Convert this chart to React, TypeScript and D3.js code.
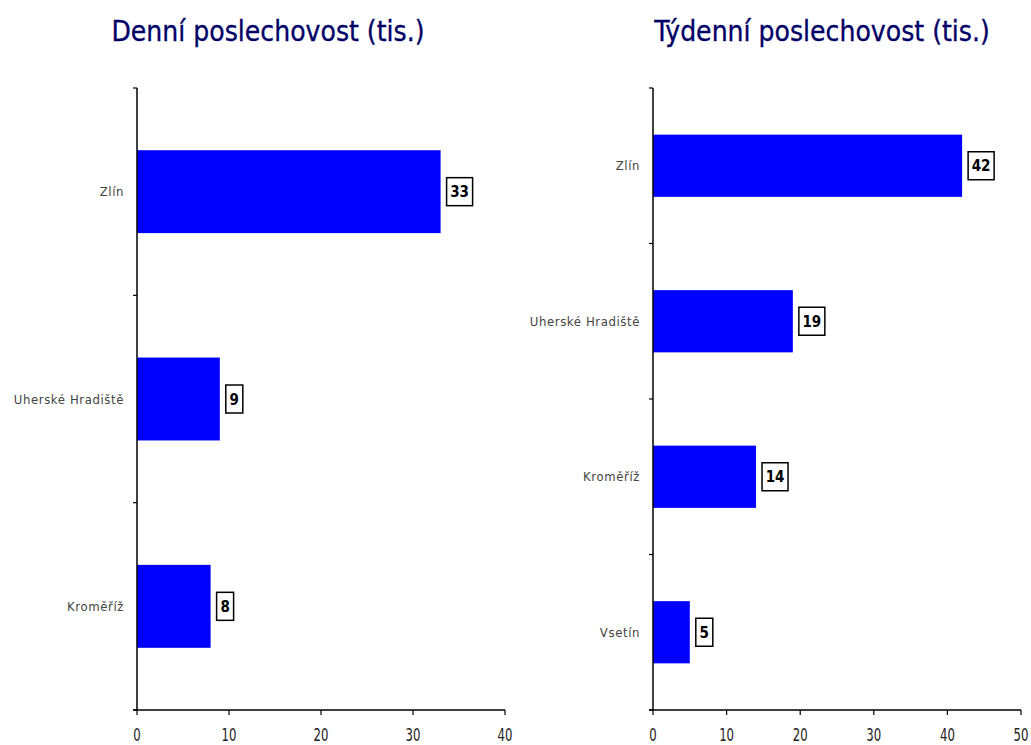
import React from "react";
import * as d3 from "d3";

const dailyCategories = ["Zlín", "Uherské Hradiště", "Kroměříž"];
const dailyValues = [33, 9, 8];
const dailyTicks = [0, 10, 20, 30, 40];

const weeklyCategories = ["Zlín", "Uherské Hradiště", "Kroměříž", "Vsetín"];
const weeklyValues = [42, 19, 14, 5];
const weeklyTicks = [0, 10, 20, 30, 40, 50];

const titles = ["Denní poslechovost (tis.)", "Týdenní poslechovost (tis.)"];

type PanelProps = {
  title: string;
  categories: string[];
  values: number[];
  ticks: number[];
  x0: number;
  x1: number;
  titleX: number;
};

const TOP = 88;
const BOTTOM = 710;

function Panel({ title, categories, values, ticks, x0, x1, titleX }: PanelProps) {
  const xs = d3.scaleLinear().domain([ticks[0], ticks[ticks.length - 1]]).range([x0, x1]);
  const ys = d3.scaleBand<string>().domain(categories).range([TOP, BOTTOM]).paddingInner(0.6).paddingOuter(0.3);
  const step = (BOTTOM - TOP) / categories.length;
  const bounds = d3.range(categories.length + 1).map((i) => TOP + i * step);
  return (
    <g>
      <text x={titleX} y={41} textAnchor="middle" fontFamily="DejaVu Sans Condensed, DejaVu Sans" fontSize={28} fill="#000066" stroke="#000066" strokeWidth={0.3}>
        {title}
      </text>
      {categories.map((c, i) => {
        const y = ys(c)!;
        const w = xs(values[i]) - xs(0);
        const label = String(values[i]);
        const bw = label.length * 9 + 8;
        const bx = xs(values[i]) + 6;
        const cy = y + ys.bandwidth() / 2;
        return (
          <g key={c}>
            <rect x={xs(0)} y={y} width={w} height={ys.bandwidth()} fill="#0000ff" />
            <rect x={bx} y={cy - 14} width={bw} height={28} fill="#fff" stroke="#000" strokeWidth={1.5} />
            <text x={bx + bw / 2} y={cy + 5.5} textAnchor="middle" fontFamily="DejaVu Sans Condensed, DejaVu Sans" fontWeight="bold" fontSize={15} fill="#000">
              {label}
            </text>
            <text x={xs(0) - 13} y={cy + 4.5} textAnchor="end" fontFamily="DejaVu Sans Condensed, DejaVu Sans" fontSize={13} fill="#444" style={{ letterSpacing: "0.6px" }}>
              {c}
            </text>
          </g>
        );
      })}
      <line x1={xs(0)} x2={xs(0)} y1={TOP} y2={BOTTOM} stroke="#000" strokeWidth={1.5} />
      {bounds.map((b, i) => (
        <line key={i} x1={xs(0) - 4} x2={xs(0)} y1={b} y2={b} stroke="#000" strokeWidth={1.2} />
      ))}
      <line x1={xs(0) - 4} x2={x1} y1={BOTTOM} y2={BOTTOM} stroke="#000" strokeWidth={1.5} />
      {ticks.map((t) => (
        <g key={t}>
          <line x1={xs(t)} x2={xs(t)} y1={BOTTOM} y2={BOTTOM + 5} stroke="#000" strokeWidth={1.2} />
          <text transform={`translate(${xs(t)},${BOTTOM + 31}) scale(1,1.3)`} textAnchor="middle" fontFamily="DejaVu Sans Condensed, DejaVu Sans" fontSize={13} fill="#222">
            {t}
          </text>
        </g>
      ))}
    </g>
  );
}

export default function App() {
  return (
    <svg width={1031} height={745} style={{ position: "absolute", left: 0, top: 0, background: "#fff" }}>
      <Panel title={titles[0]} categories={dailyCategories} values={dailyValues} ticks={dailyTicks} x0={137} x1={505} titleX={268} />
      <Panel title={titles[1]} categories={weeklyCategories} values={weeklyValues} ticks={weeklyTicks} x0={653} x1={1021} titleX={822} />
    </svg>
  );
}
